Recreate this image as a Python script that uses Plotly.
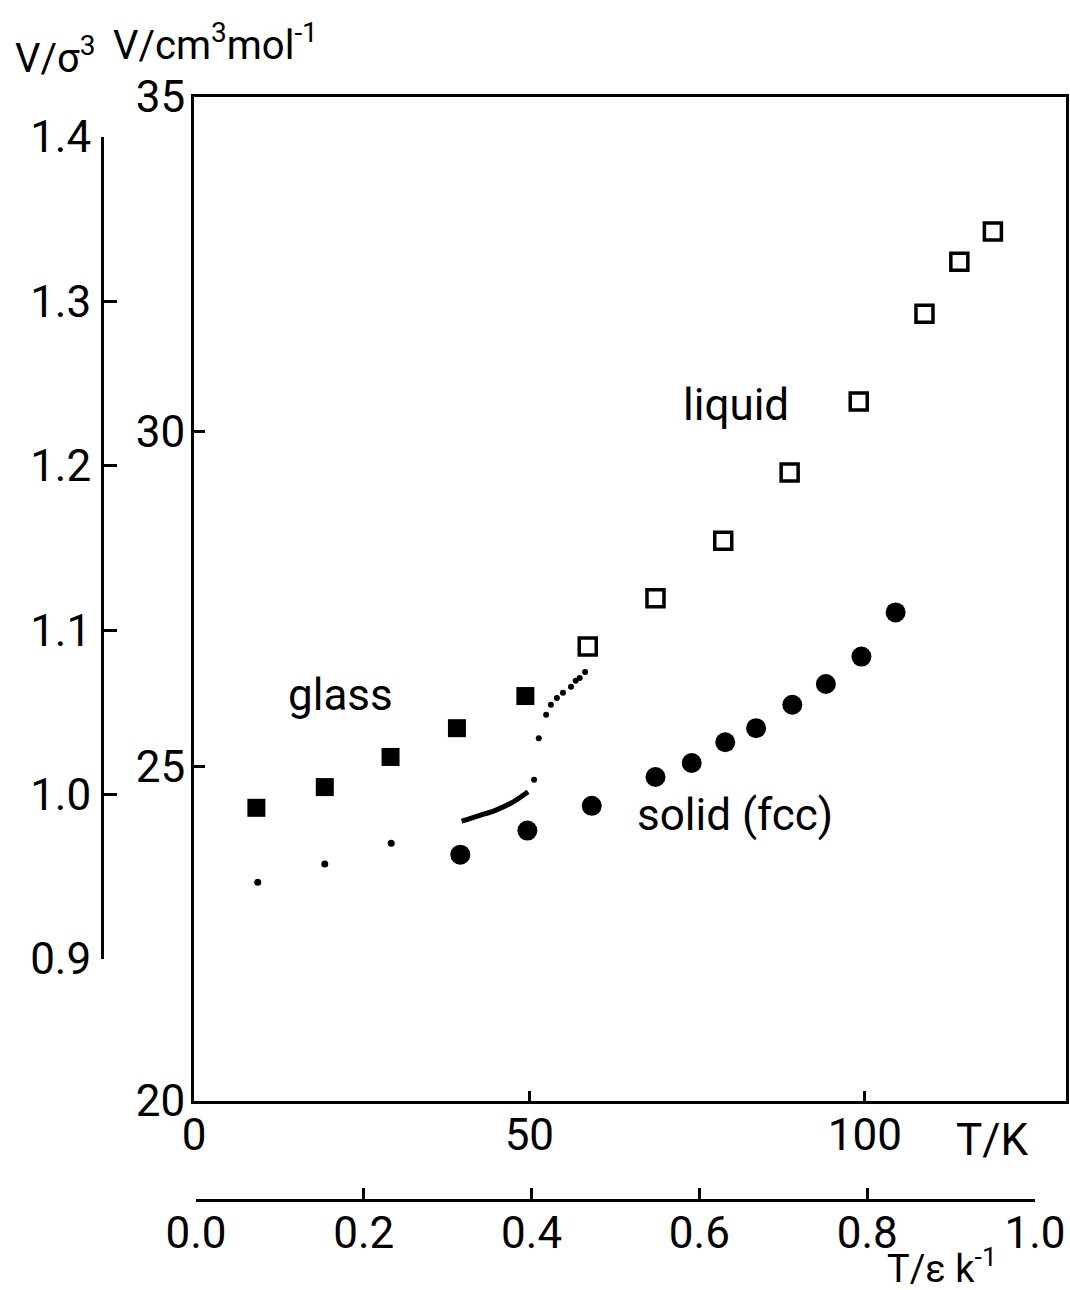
import plotly.graph_objects as go

# Molar volume of argon vs temperature: glass, supercooled/normal liquid and fcc solid
glass_T = [9.3, 19.5, 29.3, 39.2, 49.4]
glass_V = [24.38, 24.69, 25.14, 25.57, 26.05]

liquid_T = [58.7, 68.8, 78.9, 88.8, 99.1, 108.9, 114.1, 119.1]
liquid_V = [26.79, 27.51, 28.37, 29.39, 30.45, 31.76, 32.54, 32.99]

solid_T = [39.7, 49.7, 59.3, 68.8, 74.2, 79.2, 83.8, 89.2, 94.2, 99.5, 104.6]
solid_V = [23.68, 24.04, 24.41, 24.84, 25.05, 25.36, 25.57, 25.92, 26.23, 26.64, 27.30]

# low-temperature reference points
ref_T = [9.5, 19.5, 29.4]
ref_V = [23.27, 23.54, 23.85]

# continuous curve near the glass transition
curve_T = [39.9, 42.4, 45.1, 47.6, 49.8]
curve_V = [24.18, 24.26, 24.35, 24.47, 24.62]

# dotted connection towards the liquid branch
dots_T = [50.7, 51.4, 52.5, 53.2, 54.1, 55.0, 56.2, 56.9, 57.5, 58.3]
dots_V = [24.80, 25.42, 25.77, 25.92, 26.02, 26.10, 26.19, 26.28, 26.32, 26.41]

T_ticks = [0, 50, 100]
V_ticks = [20, 25, 30, 35]
Vs_ticks = [0.9, 1.0, 1.1, 1.2, 1.3, 1.4]
Tr_ticks = [0.0, 0.2, 0.4, 0.6, 0.8, 1.0]

W, H = 1070, 1290
FONT = "Roboto"
FS = 44


def px_x(p):
    return p / W


def px_y(p):
    return 1 - p / H


fig = go.Figure()

fig.add_trace(go.Scatter(x=ref_T, y=ref_V, mode="markers",
                         marker=dict(symbol="circle", size=7, color="black"),
                         showlegend=False, hoverinfo="skip"))
fig.add_trace(go.Scatter(x=curve_T, y=curve_V, mode="lines",
                         line=dict(color="black", width=5, shape="spline"),
                         showlegend=False, hoverinfo="skip"))
fig.add_trace(go.Scatter(x=dots_T, y=dots_V, mode="markers",
                         marker=dict(symbol="circle", size=6, color="black"),
                         showlegend=False, hoverinfo="skip"))
fig.add_trace(go.Scatter(x=glass_T, y=glass_V, mode="markers",
                         marker=dict(symbol="square", size=18, color="black"),
                         showlegend=False, hoverinfo="skip"))
fig.add_trace(go.Scatter(x=liquid_T, y=liquid_V, mode="markers",
                         marker=dict(symbol="square-open", size=17, color="black",
                                     line=dict(width=3.5, color="black")),
                         showlegend=False, hoverinfo="skip"))
fig.add_trace(go.Scatter(x=solid_T, y=solid_V, mode="markers",
                         marker=dict(symbol="circle", size=20, color="black"),
                         showlegend=False, hoverinfo="skip"))

# empty traces that attach the reduced-unit axes
fig.add_trace(go.Scatter(x=[None], y=[None], xaxis="x", yaxis="y2",
                         showlegend=False, hoverinfo="skip"))
fig.add_trace(go.Scatter(x=[None], y=[None], xaxis="x2", yaxis="y",
                         showlegend=False, hoverinfo="skip"))

axis_common = dict(showgrid=False, zeroline=False, showline=True, linecolor="black",
                   linewidth=3, ticks="inside", tickcolor="black", tickwidth=3,
                   automargin=False,
                   tickfont=dict(family=FONT, size=FS, color="black"))

fig.update_layout(
    template="none",
    width=W, height=H,
    margin=dict(l=0, r=0, t=0, b=0, pad=0),
    paper_bgcolor="white", plot_bgcolor="rgba(0,0,0,0)",
    xaxis=dict(domain=[px_x(194), px_x(1066)], range=[0, 130], anchor="y",
               mirror=True, tickvals=T_ticks, ticktext=[str(v) for v in T_ticks],
               ticklen=10, ticklabelstandoff=-7, **axis_common),
    yaxis=dict(domain=[px_y(1101), px_y(97)], range=[20, 35], anchor="x",
               mirror=True, tickvals=V_ticks, ticktext=[str(v) for v in V_ticks],
               ticklen=11, ticklabelstandoff=-3, **axis_common),
    yaxis2=dict(domain=[px_y(959), px_y(137)], range=[0.9, 1.4], anchor="free",
                position=px_x(102), side="left", tickvals=Vs_ticks,
                ticktext=[f"{v:.1f}" for v in Vs_ticks],
                ticklen=13, ticklabelstandoff=1, **axis_common),
    xaxis2=dict(domain=[px_x(196), px_x(1035)], range=[0, 1.0], anchor="free",
                position=px_y(1200), side="bottom", tickvals=Tr_ticks,
                ticktext=[f"{v:.1f}" for v in Tr_ticks],
                ticklen=11, ticklabelstandoff=-7, **axis_common),
)

def label(text, x, y, xref="paper", yref="paper", size=FS, xanchor="center"):
    fig.add_annotation(text=text, x=x, y=y, xref=xref, yref=yref, showarrow=False,
                       xanchor=xanchor, yanchor="middle",
                       font=dict(family=FONT, size=size, color="black"))

# phase labels
label("liquid", 80.8, 30.4, xref="x", yref="y")
label("glass", 21.8, 26.07, xref="x", yref="y")
label("solid (fcc)", 80.6, 24.27, xref="x", yref="y")

# axis titles
label("V/σ<sup>3</sup>", px_x(55), px_y(56), size=40)
label("V/cm<sup>3</sup>mol<sup>-1</sup>", px_x(215), px_y(42), size=40)
label("T/K", px_x(992), px_y(1140), size=FS)
label("T/ε k<sup>-1</sup>", px_x(942), px_y(1266), size=38)

fig.write_html("out.html")
